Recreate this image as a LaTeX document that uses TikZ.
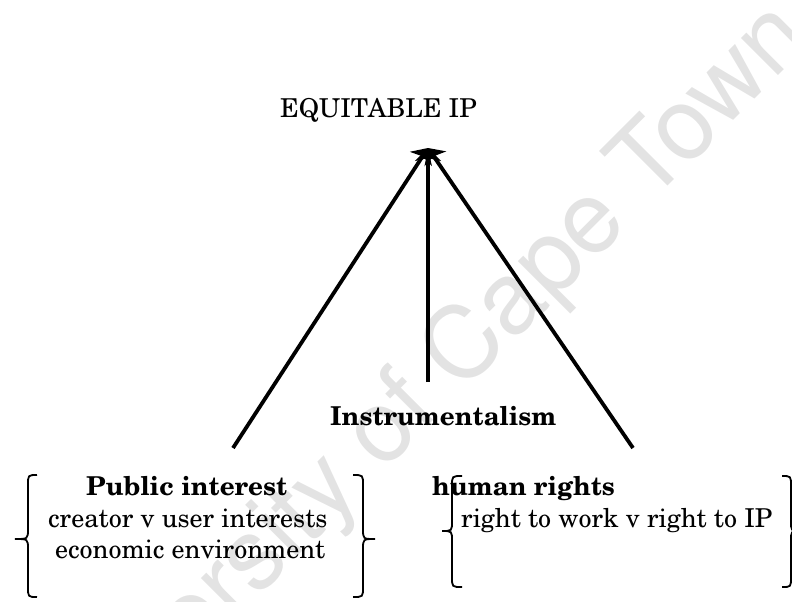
\documentclass[tikz,border=0pt]{standalone}
\usepackage[T1]{fontenc}
\renewcommand\rmdefault{pnc}
\usetikzlibrary{arrows.meta}
\tikzset{
  txt/.style={inner sep=0pt, anchor=base west, font=\fontsize{26}{30}\selectfont},
  btxt/.style={txt, font=\fontsize{26}{30}\selectfont\bfseries},
  conn/.style={line width=3.8pt, -{Stealth[length=13pt,width=26pt,inset=3pt]}},
  brc/.style={line width=1.8pt},
  wmark/.style={text=black!11, font=\fontfamily{phv}\fontsize{100}{110}\selectfont, rotate=45, inner sep=0pt, anchor=base west}
}
\begin{document}
\begin{tikzpicture}[x=1pt,y=-1pt]
\useasboundingbox (0,0) rectangle (792,602);
\clip (0,0) rectangle (792,602);
\node[wmark] (wm) at (54,800) {University of Cape Town};
\node[txt] (eq) at (280,117) {EQUITABLE IP};
\node[btxt] (ins) at (330,425) {Instrumentalism};
\node[btxt] (pub) at (86,495) {Public interest};
\node[txt] (cre) at (48,527) {creator v user interests};
\node[txt] (eco) at (55,558) {economic environment};
\node[btxt] (hum) at (432,495) {human rights};
\node[txt] (rtw) at (461,527) {right to work v right to IP};
\coordinate (apex) at (428,148);
\coordinate (lend) at (233,448);
\coordinate (mend) at (428,382);
\coordinate (rend) at (633,448);
\draw[conn] (lend) -- (apex);
\draw[conn] (rend) -- (apex);
\draw[conn] (mend) -- (apex);
% braces
\draw[brc] (37,475) .. controls (28,475) .. (28,485) -- (28,529) .. controls (28,539) .. (15,539) .. controls (28,539) .. (28,549) -- (28,587) .. controls (28,597) .. (37,597);
\draw[brc] (353,475) .. controls (363,475) .. (363,485) -- (363,529) .. controls (363,539) .. (375,539) .. controls (363,539) .. (363,549) -- (363,587) .. controls (363,597) .. (353,597);
\draw[brc] (462,476) .. controls (452,476) .. (452,486) -- (452,521) .. controls (452,531) .. (442,531) .. controls (452,531) .. (452,541) -- (452,577) .. controls (452,587) .. (462,587);
\draw[brc] (782,476) .. controls (791,476) .. (791,486) -- (791,521) .. controls (791,531) .. (800,531) .. controls (791,531) .. (791,541) -- (791,577) .. controls (791,587) .. (782,587);
\end{tikzpicture}
\end{document}
